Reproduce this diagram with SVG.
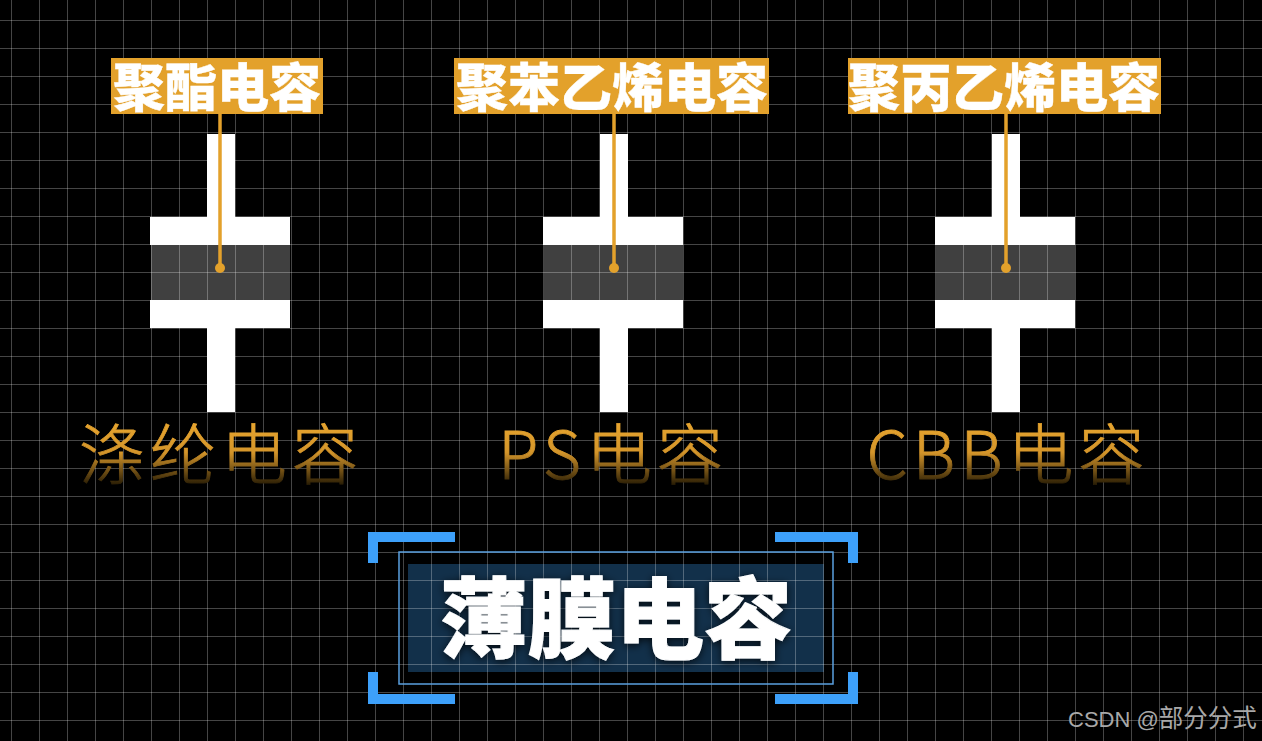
<svg xmlns="http://www.w3.org/2000/svg" width="1262" height="741" viewBox="0 0 1262 741">
<defs>
<pattern id="grid" x="11" y="20" width="28" height="28" patternUnits="userSpaceOnUse"><path d="M0.5 0V28M0 0.5H28" fill="none" stroke="#fff" stroke-opacity="0.27" stroke-width="1"/></pattern>
<linearGradient id="fade" gradientUnits="userSpaceOnUse" x1="0" y1="425" x2="0" y2="486"><stop offset="0" stop-color="#e5a32e"/><stop offset="0.45" stop-color="#d4952a"/><stop offset="1" stop-color="#221803"/></linearGradient>
<filter id="glow" x="-10%" y="-20%" width="120%" height="140%"><feDropShadow dx="0" dy="2" stdDeviation="4" flood-color="#000" flood-opacity="0.75"/></filter>
</defs>
<style>
.tag{fill:#e3a12b}
.tagt{font-family:"Noto Sans CJK SC",sans-serif;font-weight:900;font-size:52px;fill:#fff;stroke:#fff;stroke-width:0.4px;text-anchor:middle}
.plate{fill:#fff}
.band{fill:#404040}
.sub{font-family:"Noto Sans CJK SC",sans-serif;font-weight:300;font-size:66px;fill:url(#fade);stroke:url(#fade);stroke-width:0.8px;text-anchor:middle}
.lead{stroke:#e3a12b;stroke-width:3.5;fill:none}
.dot{fill:#e3a12b}
.corner{fill:#3da0fa}
</style>
<rect width="1262" height="741" fill="#000"/>
<rect x="408" y="564" width="416" height="108" fill="#12304a"/>
<rect class="band" x="151" y="245" width="139" height="55"/>
<rect class="band" x="544" y="245" width="139" height="55"/>
<rect class="band" x="936" y="245" width="139" height="55"/>
<rect width="1262" height="741" fill="url(#grid)"/>

<g id="cap-polyester">
<path class="plate" d="M207 134H235V217H290V245H150V217H207Z"/>
<path class="plate" d="M150 300H290V328H235V412H207V328H150Z"/>
<rect class="tag" x="111" y="58" width="212" height="56"/>
<text class="tagt" x="217" y="107">聚酯电容</text>
<text class="sub" x="221" y="479" letter-spacing="5">涤纶电容</text>
</g>
<g id="cap-ps">
<path class="plate" d="M600 134H628V217H683V245H543V217H600Z"/>
<path class="plate" d="M543 300H683V328H628V412H600V328H543Z"/>
<rect class="tag" x="454" y="58" width="315" height="56"/>
<text class="tagt" x="612" y="107">聚苯乙烯电容</text>
<text class="sub" x="613" y="479" letter-spacing="5">PS电容</text>
</g>
<g id="cap-cbb">
<path class="plate" d="M992 134H1020V217H1075V245H935V217H992Z"/>
<path class="plate" d="M935 300H1075V328H1020V412H992V328H935Z"/>
<rect class="tag" x="848" y="58" width="313" height="56"/>
<text class="tagt" x="1004" y="107">聚丙乙烯电容</text>
<text class="sub" x="1008" y="479" letter-spacing="5">CBB电容</text>
</g>

<g id="connectors">
<path class="lead" d="M220 114V268"/><circle class="dot" cx="220" cy="268" r="5"/>
<path class="lead" d="M614 114V268"/><circle class="dot" cx="614" cy="268" r="5"/>
<path class="lead" d="M1006 114V268"/><circle class="dot" cx="1006" cy="268" r="5"/>
</g>

<g id="title">
<rect x="399" y="552" width="434" height="132" fill="none" stroke="#5aa0e0" stroke-width="1.500"/>
<path class="corner" d="M368 532H455V542H378V563H368Z"/>
<path class="corner" d="M858 532H775V542H848V563H858Z"/>
<path class="corner" d="M368 704H455V694H378V672H368Z"/>
<path class="corner" d="M858 704H775V694H848V672H858Z"/>
<text x="616" y="651" font-family="'Noto Sans CJK SC',sans-serif" font-weight="900" font-size="88" fill="#fff" stroke="#fff" stroke-width="1" text-anchor="middle" filter="url(#glow)">薄膜电容</text>
</g>
<text x="1068" y="727" font-family="'Liberation Sans','Noto Sans CJK SC',sans-serif" font-size="22" fill="#a8a8a8">CSDN @<tspan font-family="'Noto Sans CJK SC',sans-serif" font-size="24.5">部分分式</tspan></text>
</svg>
